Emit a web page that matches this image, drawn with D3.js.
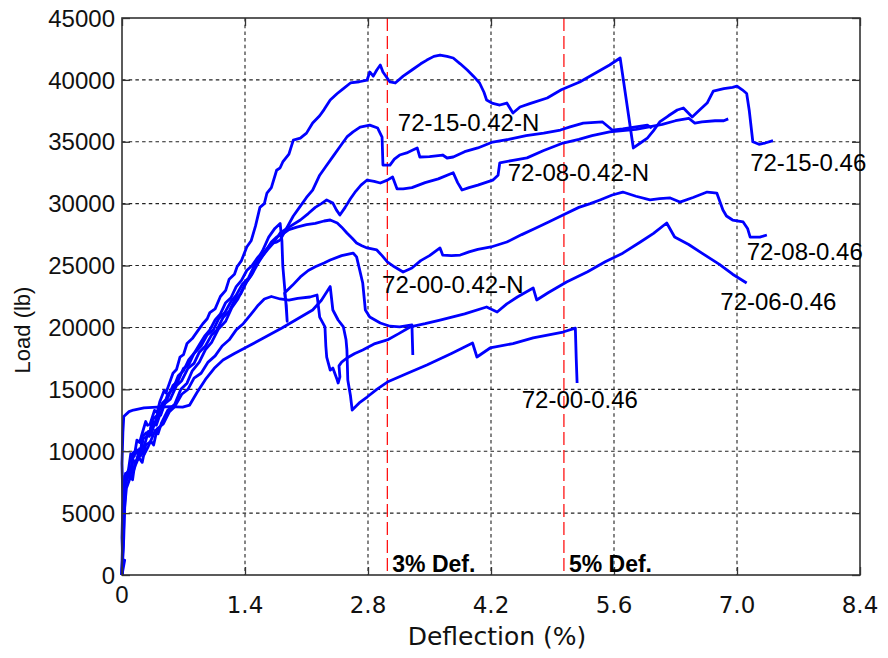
<!DOCTYPE html>
<html><head><meta charset="utf-8">
<script src="https://cdn.jsdelivr.net/npm/d3@7"></script>
<style>body{margin:0;background:#fff}svg{display:block}</style>
</head><body>
<svg id="c" width="888" height="658"></svg>
<script>
// ---- data (deflection %, load lb) ----
const xTicks = [0, 1.4, 2.8, 4.2, 5.6, 7.0, 8.4];
const xTickLabels = ["0", "1.4", "2.8", "4.2", "5.6", "7.0", "8.4"];
const yTicks = [0, 5000, 10000, 15000, 20000, 25000, 30000, 35000, 40000, 45000];
const refLines = [3.02, 5.03];
const refLabels = ["3% Def.", "5% Def."];

const s72_15_046 = [[0,0],[0.01,2500],[0.02,6000],[0.04,8200],[0.06,7900],[0.08,8800],[0.1,9800],[0.12,9500],[0.14,9600],[0.17,10900],[0.2,10700],[0.22,11200],[0.27,12400],[0.29,12100],[0.32,12200],[0.37,13300],[0.4,13100],[0.43,14000],[0.48,14900],[0.5,14700],[0.53,15300],[0.58,16300],[0.62,16600],[0.66,17600],[0.70,17800],[0.74,18700],[0.80,19100],[0.86,19700],[0.92,20300],[0.97,20700],[1.0,21200],[1.06,21500],[1.12,22500],[1.18,23000],[1.22,23900],[1.28,24300],[1.31,24900],[1.36,25400],[1.42,26500],[1.47,27000],[1.52,28200],[1.57,29700],[1.62,30000],[1.65,30860],[1.7,31300],[1.76,32700],[1.8,32900],[1.83,33370],[1.9,34000],[1.95,35140],[2.03,35300],[2.1,35700],[2.17,36510],[2.25,37100],[2.3,37600],[2.37,38370],[2.45,38900],[2.52,39300],[2.6,39750],[2.7,39850],[2.79,39990],[2.82,40640],[2.86,40300],[2.9,40800],[2.94,41200],[2.97,40640],[3.05,39830],[3.11,39750],[3.2,40300],[3.3,40800],[3.4,41300],[3.47,41600],[3.55,41900],[3.62,42010],[3.7,41900],[3.77,41770],[3.85,41300],[3.93,40800],[4.0,40300],[4.07,39750],[4.12,39000],[4.15,38370],[4.22,38100],[4.3,37970],[4.38,38130],[4.45,37320],[4.53,37810],[4.65,38100],[4.84,38540],[5.0,39200],[5.21,39830],[5.4,40600],[5.55,41200],[5.67,41770],[5.82,34500],[5.9,34900],[5.98,35300],[6.05,35900],[6.12,36600],[6.22,37100],[6.32,37570],[6.39,37730],[6.49,37000],[6.58,37600],[6.66,38130],[6.73,39100],[6.85,39300],[6.95,39400],[7.0,39500],[7.06,39200],[7.11,38900],[7.14,37500],[7.18,35000],[7.25,34800],[7.32,34900],[7.41,35100]];

const s72_15_042N = [[0,0],[0.02,4000],[0.03,7000],[0.07,8200],[0.09,7800],[0.12,9300],[0.16,9100],[0.2,10200],[0.23,10000],[0.26,10600],[0.3,11600],[0.33,11300],[0.36,12000],[0.42,13200],[0.44,12900],[0.47,13500],[0.52,14600],[0.58,15000],[0.64,16100],[0.7,16500],[0.76,17400],[0.82,17900],[0.88,18600],[0.94,19300],[1.0,19800],[1.06,20600],[1.12,21100],[1.18,22000],[1.24,22400],[1.3,23300],[1.36,23800],[1.42,24600],[1.48,25000],[1.55,25700],[1.62,26100],[1.7,26800],[1.76,26900],[1.8,27060],[1.85,27700],[1.88,28110],[1.95,29000],[2.02,29700],[2.1,30500],[2.17,31100],[2.25,32300],[2.32,33000],[2.4,33800],[2.48,34600],[2.56,35390],[2.63,35800],[2.71,36190],[2.82,36350],[2.91,36110],[2.96,35380],[2.97,33120],[3.05,33120],[3.1,33600],[3.16,33930],[3.24,34100],[3.31,34330],[3.36,34500],[3.39,33770],[3.5,33800],[3.65,33930],[3.7,33690],[3.77,33770],[3.9,34200],[4.05,34500],[4.22,34980],[4.4,35200],[4.6,35500],[4.8,35700],[4.99,35950],[5.1,36200],[5.25,36500],[5.47,36600],[5.58,35950],[5.7,36050],[5.85,36200],[5.98,36350],[6.03,36100]];

const s72_08_042N = [[0,0],[0.02,3000],[0.04,7500],[0.09,8600],[0.11,8300],[0.13,9900],[0.18,10100],[0.21,9800],[0.23,11200],[0.28,11500],[0.31,11200],[0.34,12500],[0.4,12900],[0.46,13900],[0.52,14300],[0.58,15300],[0.64,15700],[0.7,16700],[0.76,17000],[0.82,17900],[0.9,18500],[0.97,19400],[1.04,19800],[1.1,20700],[1.17,21200],[1.24,22100],[1.3,22600],[1.37,23500],[1.44,24000],[1.5,24900],[1.58,25600],[1.66,26300],[1.72,26800],[1.8,27630],[1.9,28100],[2.03,28680],[2.12,29200],[2.2,29700],[2.27,30000],[2.33,30300],[2.4,30050],[2.44,29500],[2.48,29080],[2.54,29700],[2.6,30400],[2.66,31000],[2.72,31500],[2.79,31910],[2.87,31800],[2.94,31670],[3.02,31900],[3.08,32150],[3.13,31200],[3.2,31200],[3.3,31300],[3.45,31700],[3.6,32000],[3.77,32500],[3.82,31700],[3.87,31100],[3.95,31300],[4.05,31500],[4.22,31900],[4.28,32300],[4.3,33300],[4.45,33500],[4.61,33700],[4.8,34300],[5.02,34900],[5.2,35200],[5.35,35500],[5.55,35800],[5.7,35900],[5.85,36000],[6.0,36200],[6.15,36400],[6.3,36700],[6.45,36900],[6.52,36500],[6.6,36600],[6.75,36700],[6.85,36700],[6.9,36850]];

const s72_08_046 = [[0,0],[0.01,5000],[0.03,8000],[0.08,8500],[0.1,8200],[0.12,9700],[0.18,9900],[0.21,9600],[0.24,11000],[0.3,11300],[0.36,12400],[0.39,12100],[0.42,12700],[0.48,13800],[0.55,14200],[0.62,15300],[0.68,15700],[0.75,16700],[0.82,17100],[0.88,18000],[0.95,18500],[1.02,19400],[1.08,19800],[1.15,20800],[1.22,21300],[1.28,22200],[1.35,22700],[1.42,23700],[1.48,24300],[1.55,25200],[1.62,26000],[1.7,26900],[1.76,27300],[1.82,27500],[1.9,27900],[1.99,28110],[2.1,28300],[2.2,28400],[2.3,28600],[2.37,28680],[2.45,28440],[2.5,28100],[2.56,27630],[2.62,27200],[2.67,26820],[2.73,26600],[2.79,26420],[2.9,26260],[2.96,25800],[3.02,25290],[3.1,24900],[3.2,24480],[3.3,24800],[3.4,25400],[3.5,25800],[3.62,26420],[3.65,25850],[3.75,25800],[3.85,25850],[3.95,26100],[4.05,26300],[4.2,26500],[4.38,26900],[4.55,27500],[4.7,28000],[4.85,28500],[5.02,29080],[5.2,29700],[5.33,30000],[5.44,30300],[5.58,30700],[5.7,30940],[5.85,30600],[6.01,30300],[6.12,30400],[6.24,30460],[6.35,30130],[6.5,30500],[6.66,30940],[6.72,30900],[6.77,30860],[6.84,29490],[6.88,29000],[6.95,28680],[7.07,28520],[7.12,28000],[7.15,27300],[7.26,27300],[7.34,27470]];

const s72_06_046 = [[0,0],[0.01,4000],[0.05,7000],[0.1,8000],[0.12,7700],[0.15,9200],[0.2,9400],[0.23,9100],[0.27,10500],[0.33,10800],[0.36,10500],[0.4,11800],[0.47,12200],[0.54,13200],[0.6,13600],[0.68,14600],[0.75,15000],[0.82,15900],[0.9,16300],[0.98,17200],[1.06,17700],[1.14,18500],[1.22,19000],[1.3,19800],[1.38,20300],[1.46,21000],[1.55,21800],[1.62,22300],[1.7,22500],[1.8,22300],[1.9,22200],[2.0,22350],[2.14,22460],[2.22,22620],[2.25,20840],[2.31,20040],[2.32,18500],[2.33,17610],[2.37,16560],[2.4,16720],[2.45,15750],[2.46,15510],[2.48,16000],[2.47,16900],[2.5,17200],[2.56,17530],[2.65,17900],[2.74,18180],[2.88,18700],[3.02,18990],[3.15,19500],[3.28,20040],[3.45,20300],[3.62,20600],[3.9,21100],[4.15,21650],[4.27,21250],[4.38,21900],[4.5,22460],[4.68,23190],[4.72,22220],[4.85,22800],[5.06,23670],[5.3,24500],[5.5,25300],[5.7,26000],[5.9,26900],[6.05,27600],[6.2,28440],[6.29,27310],[6.45,26700],[6.6,26000],[6.8,25100],[6.95,24300],[7.11,23590]];

const s72_00_046 = [[0,0],[0.03,1200],[0.01,800],[0.0,3000],[0.01,6000],[0.0,9000],[0.01,11500],[0.02,12800],[0.08,13200],[0.13,13330],[0.25,13500],[0.4,13570],[0.55,13600],[0.69,13570],[0.77,13730],[0.85,14700],[0.95,15800],[1.05,16700],[1.15,17370],[1.28,17900],[1.42,18420],[1.6,19100],[1.82,19950],[2.0,20700],[2.17,21410],[2.27,22200],[2.37,23300],[2.4,21410],[2.46,20600],[2.52,20040],[2.55,19000],[2.56,18180],[2.57,15750],[2.6,14500],[2.62,13330],[2.7,13900],[2.79,14380],[2.9,15000],[3.02,15590],[3.25,16300],[3.47,16970],[3.75,17900],[3.99,18740],[4.04,17610],[4.19,18340],[4.45,18700],[4.68,19150],[5.02,19630],[5.16,19950],[5.17,17500],[5.18,15510]];

const s72_00_042N = [[0,0],[0.02,5000],[0.05,7800],[0.1,8700],[0.13,8400],[0.16,9000],[0.22,10000],[0.25,9700],[0.3,10400],[0.38,11700],[0.41,11400],[0.45,12300],[0.52,13300],[0.6,13800],[0.67,15000],[0.74,15500],[0.8,16500],[0.88,17200],[0.95,18200],[1.02,18800],[1.1,19900],[1.18,20500],[1.25,21600],[1.32,22300],[1.4,23500],[1.47,24200],[1.54,25500],[1.6,26200],[1.67,27300],[1.74,28000],[1.8,28400],[1.82,27000],[1.83,25000],[1.86,22500],[1.88,20500],[1.87,21800],[1.85,22780],[1.94,23400],[2.03,24080],[2.12,24600],[2.2,24900],[2.3,25200],[2.37,25450],[2.5,25800],[2.63,26010],[2.67,25700],[2.7,24800],[2.74,23590],[2.77,21410],[2.82,20840],[2.94,20360],[3.05,20100],[3.16,20040],[3.3,20200],[3.31,17770]];

const seriesList = [s72_15_046, s72_15_042N, s72_08_042N, s72_08_046, s72_06_046, s72_00_046, s72_00_042N];

// annotation labels: text, deflection, load (anchor = left baseline)
const labelTexts = ["72-15-0.42-N", "72-08-0.42-N", "72-00-0.42-N", "72-00-0.46", "72-15-0.46", "72-08-0.46", "72-06-0.46"];
const labelX = [3.14, 4.39, 2.96, 4.55, 7.15, 7.11, 6.81];
const labelY = [35850, 31800, 22800, 13500, 32600, 25450, 21400];

// ---- drawing ----
const svg = d3.select("#c");
const L = 122, R = 860, T = 18, B = 575;
const x = d3.scaleLinear().domain([0, 8.4]).range([L, R]);
const y = d3.scaleLinear().domain([0, 45000]).range([B, T]);

const grid = svg.append("g").attr("stroke", "#222").attr("stroke-width", 1.1).attr("stroke-dasharray", "3.5,3.2");
xTicks.slice(1, -1).forEach(t => grid.append("line").attr("x1", x(t)).attr("x2", x(t)).attr("y1", T).attr("y2", B));
yTicks.slice(1, -1).forEach(t => grid.append("line").attr("y1", y(t)).attr("y2", y(t)).attr("x1", L).attr("x2", R));

refLines.forEach(v => svg.append("line").attr("x1", x(v)).attr("x2", x(v)).attr("y1", T).attr("y2", B)
  .attr("stroke", "#ff0000").attr("stroke-width", 1.2).attr("stroke-dasharray", "13,5"));

const line = d3.line().x(d => x(d[0])).y(d => y(d[1]));
seriesList.forEach(s => svg.append("path").attr("d", line(s)).attr("fill", "none")
  .attr("stroke", "#0000ff").attr("stroke-width", 2.8).attr("stroke-linejoin", "round"));

svg.append("rect").attr("x", L).attr("y", T).attr("width", R - L).attr("height", B - T)
  .attr("fill", "none").attr("stroke", "#333").attr("stroke-width", 1.6);

function styleTicks(g) { g.select(".domain").remove(); g.selectAll("line").attr("stroke", "#333").attr("stroke-width", 1.3); }
svg.append("g").attr("transform", `translate(0,${B})`).call(d3.axisBottom(x).tickValues(xTicks).tickSize(-8).tickFormat("")).call(styleTicks);
svg.append("g").attr("transform", `translate(${L},0)`).call(d3.axisLeft(y).tickValues(yTicks).tickSize(-8).tickFormat("")).call(styleTicks);
svg.append("g").attr("transform", `translate(0,${T})`).call(d3.axisTop(x).tickValues(xTicks).tickSize(-8).tickFormat("")).call(styleTicks);
svg.append("g").attr("transform", `translate(${R},0)`).call(d3.axisRight(y).tickValues(yTicks).tickSize(-8).tickFormat("")).call(styleTicks);

svg.append("g").selectAll("text").data(yTicks).join("text")
  .attr("x", 115).attr("y", d => y(d)).attr("dy", "0.36em").attr("text-anchor", "end")
  .attr("font-family", "Liberation Sans, Arial, sans-serif").attr("font-size", 24).attr("fill", "#111")
  .text(d => d);

svg.append("g").selectAll("text").data(xTicks).join("text")
  .attr("x", d => x(d)).attr("y", (d, i) => i === 0 ? 603 : 613).attr("text-anchor", "middle")
  .attr("font-family", (d, i) => i === 0 ? "Liberation Sans, Arial, sans-serif" : "DejaVu Sans, Verdana, sans-serif")
  .attr("font-size", (d, i) => i === 0 ? 24 : 23).attr("fill", "#111")
  .text((d, i) => xTickLabels[i]);

svg.append("text").attr("x", 497).attr("y", 645).attr("text-anchor", "middle")
  .attr("font-family", "DejaVu Sans, Verdana, sans-serif").attr("font-size", 25).attr("fill", "#111").text("Deflection (%)");
svg.append("text").attr("transform", "translate(30,330) rotate(-90)").attr("text-anchor", "middle")
  .attr("font-family", "Liberation Sans, Arial, sans-serif").attr("font-size", 22).attr("fill", "#111").text("Load (lb)");

refLines.forEach((v, i) => svg.append("text").attr("x", x(v) + 5).attr("y", 572)
  .attr("font-family", "Liberation Sans, Arial, sans-serif").attr("font-weight", "bold").attr("font-size", 23)
  .attr("fill", "#000").text(refLabels[i]));

labelTexts.forEach((t, i) => svg.append("text").attr("x", x(labelX[i])).attr("y", y(labelY[i]))
  .attr("font-family", "Liberation Sans, Arial, sans-serif").attr("font-size", 24).attr("fill", "#000").text(t));
</script>
</body></html>
